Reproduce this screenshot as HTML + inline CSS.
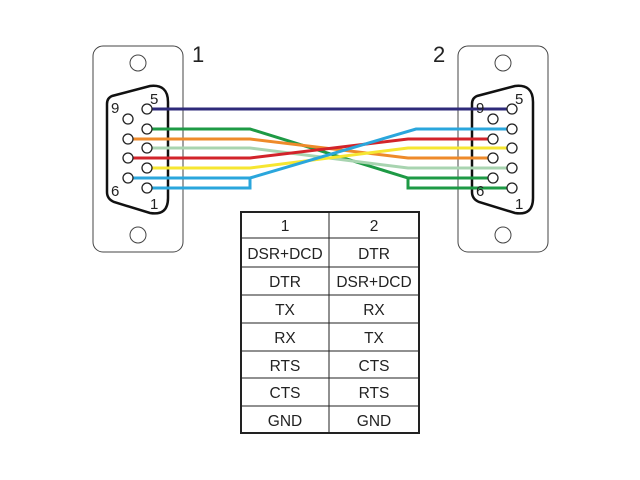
<!DOCTYPE html>
<html><head><meta charset="utf-8"><style>
html,body{margin:0;padding:0;background:#fff;}
svg{display:block;}
text{font-family:"Liberation Sans",Arial,sans-serif;fill:#222;}
</style></head><body>
<svg width="640" height="480" viewBox="0 0 640 480" xmlns="http://www.w3.org/2000/svg">
<defs>
<g id="conn">
  <rect x="93" y="46" width="90" height="206" rx="10" fill="#fff" stroke="#444" stroke-width="1"/>
  <circle cx="138" cy="63" r="8" fill="none" stroke="#444" stroke-width="1"/>
  <circle cx="138" cy="235" r="8" fill="none" stroke="#444" stroke-width="1"/>
  <path d="M112,96 Q107,98 107,104 L107,192 Q107,199 114,202 L150,213 Q168,216 168,198 L168,102 Q168,84 150,86 L112,96 Z" fill="none" stroke="#111" stroke-width="2.5"/>
</g>
</defs>
<use href="#conn"/>
<use href="#conn" x="365"/>
<text x="192" y="62" font-size="22">1</text>
<text x="433" y="62" font-size="22">2</text>
<g fill="none" stroke-width="3" stroke-linejoin="miter">
  <polyline points="150,109 512,109" stroke="#2e2a7a"/>
  <polyline points="150,129 250,129 408,178 492,178" stroke="#1e9a45"/>
  <polyline points="408,178 408,188 512,188" stroke="#1e9a45"/>
  <polyline points="130,139 250,139 408,158 492,158" stroke="#ee8a2a"/>
  <polyline points="150,148 250,148 408,168 512,168" stroke="#a8d4b0"/>
  <polyline points="130,158 250,158 408,139 492,139" stroke="#d2232a"/>
  <polyline points="150,168 250,168 408,148 512,148" stroke="#f6e631"/>
  <polyline points="130,178 250,178 416,129 512,129" stroke="#2aa6dc"/>
  <polyline points="150,188 250,188 250,178" stroke="#2aa6dc"/>
</g>
<g fill="#fff" stroke="#222" stroke-width="1.3">
  <circle cx="147" cy="109" r="5"/><circle cx="147" cy="129" r="5"/><circle cx="147" cy="148" r="5"/><circle cx="147" cy="168" r="5"/><circle cx="147" cy="188" r="5"/>
  <circle cx="128" cy="119" r="5"/><circle cx="128" cy="139" r="5"/><circle cx="128" cy="158" r="5"/><circle cx="128" cy="178" r="5"/>
  <circle cx="512" cy="109" r="5"/><circle cx="512" cy="129" r="5"/><circle cx="512" cy="148" r="5"/><circle cx="512" cy="168" r="5"/><circle cx="512" cy="188" r="5"/>
  <circle cx="493" cy="119" r="5"/><circle cx="493" cy="139" r="5"/><circle cx="493" cy="158" r="5"/><circle cx="493" cy="178" r="5"/>
</g>
<g font-size="15">
  <text x="150" y="104">5</text><text x="111" y="113">9</text><text x="111" y="196">6</text><text x="150" y="209">1</text>
  <text x="515" y="104">5</text><text x="476" y="113">9</text><text x="476" y="196">6</text><text x="515" y="209">1</text>
</g>
<g stroke="#222" fill="none">
  <rect x="241" y="212" width="178" height="221" stroke-width="2"/>
  <line x1="329" y1="212" x2="329" y2="433" stroke-width="1"/>
  <line x1="241" y1="238" x2="419" y2="238" stroke-width="1"/>
  <line x1="241" y1="267" x2="419" y2="267" stroke-width="1"/>
  <line x1="241" y1="295" x2="419" y2="295" stroke-width="1"/>
  <line x1="241" y1="323" x2="419" y2="323" stroke-width="1"/>
  <line x1="241" y1="351" x2="419" y2="351" stroke-width="1"/>
  <line x1="241" y1="378" x2="419" y2="378" stroke-width="1"/>
  <line x1="241" y1="406" x2="419" y2="406" stroke-width="1"/>
</g>
<g font-size="15.5" text-anchor="middle">
  <text x="285" y="231">1</text><text x="374" y="231">2</text>
  <text x="285" y="259">DSR+DCD</text><text x="374" y="259">DTR</text>
  <text x="285" y="287">DTR</text><text x="374" y="287">DSR+DCD</text>
  <text x="285" y="315">TX</text><text x="374" y="315">RX</text>
  <text x="285" y="343">RX</text><text x="374" y="343">TX</text>
  <text x="285" y="371">RTS</text><text x="374" y="371">CTS</text>
  <text x="285" y="398">CTS</text><text x="374" y="398">RTS</text>
  <text x="285" y="426">GND</text><text x="374" y="426">GND</text>
</g>
</svg>
</body></html>
